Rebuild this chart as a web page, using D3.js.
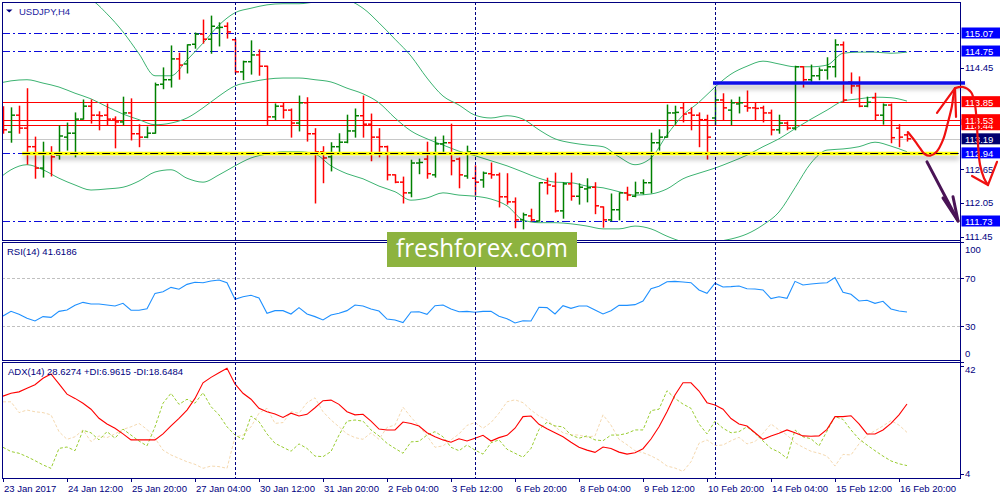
<!DOCTYPE html>
<html><head><meta charset="utf-8">
<script src="https://cdn.jsdelivr.net/npm/d3@7"></script>
<style>
html,body{margin:0;padding:0;background:#fff;}
svg{display:block;font-family:"Liberation Sans",Arial,sans-serif;}
</style></head><body>
<svg id="c" width="1000" height="500"></svg>
<script>
// ---------------- DATA ----------------
const symbol = "USDJPY,H4";
const timeLabels = ["23 Jan 2017","24 Jan 12:00","25 Jan 20:00","27 Jan 04:00","30 Jan 12:00","31 Jan 20:00","2 Feb 04:00","3 Feb 12:00","6 Feb 20:00","8 Feb 04:00","9 Feb 12:00","10 Feb 20:00","14 Feb 04:00","15 Feb 12:00","16 Feb 20:00"];
const timeLabelBars = [1,9,17,25,33,41,49,57,65,73,81,89,97,105,113];
const separatorBars = [30,60,90];   // first bar of each week

// OHLC for bars 1..114 (4-hour bars)
const open = [113.67,113.31,113.61,113.38,113.05,112.67,112.94,112.90,113.22,113.29,
113.54,113.77,113.61,113.61,113.54,113.49,113.65,113.28,113.22,113.29,
114.16,114.24,114.61,114.52,114.87,115.05,114.96,115.16,115.19,114.95,
114.38,114.56,114.68,114.48,113.58,113.77,113.70,113.47,113.83,113.28,
112.96,112.87,113.05,113.13,113.33,113.60,113.45,113.22,113.05,112.55,
112.42,112.23,112.76,112.83,112.55,113.10,113.12,112.83,112.53,112.49,
112.46,112.57,112.55,112.16,112.07,111.75,111.82,111.73,112.41,112.35,
111.91,112.39,112.17,112.30,112.33,111.98,111.75,111.93,112.23,112.17,
112.23,112.41,113.12,113.22,113.65,113.74,113.65,113.61,113.53,113.56,
113.88,113.70,113.81,113.77,113.74,113.74,113.65,113.35,113.47,113.38,
114.47,114.24,114.31,114.41,114.47,114.86,114.20,114.13,113.77,113.92,
113.61,113.79,113.38,113.26];
const high = [113.76,113.74,113.77,114.08,113.22,113.13,113.05,113.42,113.47,113.65,
113.88,113.88,113.67,113.81,113.58,113.93,113.90,113.44,113.40,114.18,
114.45,114.84,114.71,114.86,115.07,115.30,115.37,115.25,115.25,114.96,
114.57,114.93,114.77,114.48,113.81,113.83,113.72,113.95,113.92,113.37,
113.05,113.12,113.28,113.61,113.72,113.95,113.63,113.37,113.06,112.55,
112.51,112.81,112.83,113.13,113.22,113.24,113.45,112.85,113.06,112.71,
112.60,112.76,112.58,112.57,112.14,111.87,111.94,112.41,112.49,112.58,
112.41,112.58,112.39,112.48,112.41,111.98,112.21,112.23,112.33,112.42,
112.46,113.29,113.35,113.79,113.77,113.83,113.74,113.65,113.61,114.06,
113.99,113.88,113.93,114.04,113.83,113.77,113.70,113.61,113.49,114.48,
114.47,114.50,114.45,114.63,114.95,114.91,114.36,114.29,113.93,114.00,
113.81,113.81,113.44,113.28];
const low = [113.29,113.13,113.29,112.74,112.49,112.51,112.53,112.83,112.99,112.87,
113.54,113.47,113.35,113.44,113.03,113.44,113.17,113.05,113.21,113.29,
114.08,114.11,114.25,114.36,114.80,114.89,114.71,114.84,114.98,114.36,
114.24,114.34,114.32,113.44,113.53,113.56,113.22,113.33,113.15,112.05,
112.41,112.62,112.94,113.12,113.22,113.22,112.80,112.87,112.46,112.41,
112.05,112.16,112.57,112.49,112.51,112.96,112.55,112.32,112.49,112.19,
112.33,112.49,111.98,112.03,111.61,111.59,111.73,111.73,112.21,111.89,
111.78,112.10,112.03,112.07,111.86,111.62,111.73,111.75,112.10,112.16,
112.21,112.23,112.99,113.22,113.45,113.49,113.35,113.05,112.83,113.44,
113.53,113.44,113.65,113.68,113.53,113.49,113.26,113.29,113.35,113.35,
114.11,114.20,114.24,114.25,114.29,113.84,114.00,113.76,113.76,113.53,
113.45,113.12,113.05,113.15];
const close = [113.35,113.61,113.38,113.05,112.67,112.94,112.87,113.24,113.29,113.54,
113.77,113.61,113.60,113.54,113.49,113.65,113.28,113.22,113.29,114.15,
114.24,114.61,114.50,114.86,115.05,114.96,115.19,115.17,115.09,114.38,
114.56,114.68,114.48,113.58,113.77,113.70,113.47,113.83,113.28,112.96,
112.85,113.05,113.13,113.33,113.60,113.45,113.22,113.05,112.55,112.42,
112.23,112.76,112.77,112.57,113.10,113.12,112.80,112.55,112.96,112.42,
112.58,112.55,112.16,112.07,111.75,111.84,111.75,112.41,112.37,111.91,
112.39,112.17,112.33,112.32,112.00,111.75,111.93,112.23,112.19,112.23,
112.41,113.12,113.22,113.65,113.66,113.63,113.61,113.53,113.22,113.88,
113.74,113.83,113.83,113.74,113.73,113.65,113.35,113.47,113.38,114.47,
114.24,114.31,114.41,114.47,114.86,113.88,114.13,113.77,113.84,113.61,
113.79,113.21,113.22,113.19];

// Bollinger bands read every 2 bars
const bbBars = [0,2,4,6,8,10,12,14,16,18,20,22,24,26,28,30,32,34,36,38,40,42,44,46,48,50,52,54,56,58,60,62,64,66,68,70,72,74,76,78,80,82,84,86,88,90,92,94,96,98,100,102,104,106,108,110,112,114];
const bbUpper = [116.10,116.01,115.92,115.87,115.80,115.73,115.66,115.41,115.09,114.70,114.31,114.31,114.59,114.89,115.21,115.43,115.51,115.57,115.59,115.59,115.62,115.64,115.64,115.51,115.25,114.96,114.66,114.27,113.95,113.79,113.61,113.56,113.60,113.54,113.35,113.19,113.12,113.08,113.05,112.87,112.73,112.85,113.26,113.61,113.84,114.11,114.34,114.48,114.57,114.52,114.47,114.47,114.50,114.71,114.73,114.73,114.71,114.73];
const bbMiddle = [114.16,114.22,114.24,114.18,114.11,114.00,113.90,113.76,113.63,113.53,113.44,113.47,113.56,113.74,113.95,114.13,114.20,114.25,114.27,114.27,114.24,114.20,114.09,113.99,113.83,113.56,113.33,113.19,113.08,112.97,112.89,112.80,112.71,112.60,112.49,112.42,112.41,112.35,112.32,112.25,112.19,112.21,112.30,112.48,112.58,112.67,112.78,112.90,113.05,113.19,113.37,113.54,113.70,113.86,113.90,113.93,113.92,113.86];
const bbLower = [112.42,112.64,112.73,112.64,112.49,112.37,112.28,112.30,112.33,112.44,112.60,112.64,112.49,112.42,112.55,112.71,112.85,112.92,112.96,112.96,112.92,112.71,112.57,112.48,112.35,112.25,112.10,112.14,112.23,112.19,112.17,112.12,112.00,111.75,111.70,111.70,111.68,111.64,111.59,111.59,111.64,111.59,111.46,111.36,111.32,111.36,111.41,111.50,111.66,111.89,112.32,112.76,112.99,113.01,113.05,113.13,113.06,112.96];

const rsi = [38.3,42.2,39.7,36.4,34.2,37.8,37.2,42.2,43.3,47.2,
49.7,48.3,48.3,47.5,46.7,48.9,43.1,43.1,44.4,57.2,
58.6,62.2,60.6,64.7,66.4,66.1,67.5,68.3,66.1,52.2,
54.4,55.6,53.3,40.6,42.8,42.8,40.0,45.3,40.0,37.8,
35.0,39.2,40.6,42.8,47.5,46.7,44.2,42.5,35.8,35.0,
32.8,41.7,41.9,39.7,46.9,47.5,44.2,41.9,42.2,41.4,
42.2,42.2,38.1,36.1,32.5,34.4,34.2,45.6,45.3,40.0,
46.9,44.7,46.7,46.7,43.3,40.0,42.8,47.2,47.2,47.8,
50.8,61.1,63.1,66.9,67.2,66.7,66.1,60.0,57.2,65.6,
62.5,62.8,63.3,61.1,60.8,60.0,52.8,54.4,53.1,67.2,
64.2,65.0,65.6,66.1,70.3,58.1,56.4,50.8,51.4,48.9,
50.6,44.2,42.5,41.62];
const rsiLevels = [70,30];
const rsiTicks = [100,70,30,0];

const adx = [31.4,32.4,32.9,34.2,35.4,37.7,39.2,35.7,32.1,30.6,
28.9,26.8,23.6,21.6,20.1,18.1,16.0,16.0,16.0,16.0,
18.1,20.9,23.6,26.5,30.6,36.1,38.0,39.6,41.2,35.7,
32.4,30.3,27.1,25.9,25.1,23.9,25.4,24.4,25.0,27.3,
29.8,30.0,28.5,25.9,24.8,25.0,22.6,19.8,19.5,19.5,
22.3,21.8,20.9,18.5,17.1,16.0,15.2,16.4,15.6,16.6,
17.6,15.6,16.8,17.6,20.1,24.2,24.4,21.5,19.9,18.5,
17.1,15.2,13.4,12.4,11.6,13.5,13.0,11.7,11.0,11.5,
12.9,16.3,20.6,25.9,31.8,36.1,36.1,33.2,29.1,28.3,
26.8,23.5,21.6,20.9,18.5,16.2,17.4,18.3,19.5,18.5,
17.4,17.3,17.4,19.7,24.2,24.2,24.5,21.6,18.1,18.1,
19.5,21.8,24.8,28.63];
const plusDI = [13.4,11.9,11.3,10.1,8.7,7.2,6.0,13.0,13.5,12.2,
19.4,18.5,16.0,18.9,16.6,19.8,17.7,15.6,13.9,20.6,
28.9,32.4,28.5,30.3,28.9,32.6,27.7,24.8,20.6,17.7,
16.2,24.4,22.4,18.1,14.8,13.4,12.0,14.6,13.0,10.3,
10.1,11.9,17.7,22.6,23.0,22.6,19.5,17.4,14.8,13.0,
11.3,15.3,15.5,17.7,18.9,17.1,13.4,12.2,14.2,12.4,
11.0,15.0,16.0,12.7,11.3,9.9,13.0,19.7,22.2,20.9,
20.6,17.7,16.6,17.4,16.0,15.7,17.7,17.7,18.3,19.5,
19.5,26.3,26.8,33.3,30.6,28.6,27.1,21.6,18.1,22.6,
20.1,18.5,18.9,20.6,18.3,15.6,13.0,11.7,9.5,19.5,
17.1,16.4,13.9,19.1,24.2,23.2,19.5,16.3,14.2,12.2,
10.3,8.6,7.6,6.96];
const minusDI = [29.4,29.4,25.6,26.5,25.9,25.6,24.8,18.9,16.2,17.1,
19.5,15.4,17.4,16.8,18.1,19.7,20.6,21.8,19.7,16.6,
12.4,10.7,9.5,8.3,7.4,6.0,6.8,6.6,6.0,17.0,
17.7,20.6,25.4,27.1,21.8,22.1,25.9,25.4,29.1,30.8,
25.9,23.0,20.6,18.1,16.8,16.2,18.5,16.2,20.4,21.2,
27.5,24.0,20.9,17.4,13.4,13.9,16.0,18.1,21.1,22.1,
20.1,22.1,25.4,29.4,30.1,29.1,26.5,24.4,23.0,20.6,
18.5,17.8,17.7,17.0,17.4,24.8,21.2,16.2,14.3,12.2,
11.5,10.4,8.9,6.8,6.1,4.9,8.3,14.8,16.0,14.0,
14.2,15.7,16.9,14.6,15.4,18.3,21.6,19.5,17.7,15.0,
13.4,12.0,11.3,10.3,6.8,10.9,10.7,14.6,17.7,19.2,
20.9,22.8,21.2,18.65];
const adxTicks = [42,4];

// horizontal levels
const dashDotLevels = [115.07,114.75,112.94,111.73];
const redLevels = [113.85,113.53,113.44];
const bidPrice = 113.19;
const yellowLine = [3.4,120.4,112.94];    // [fromBar, toBar, price]
const blueLine = [89.75,121.25,114.18];

// right-axis price labels
const priceLabelValues = [114.45,112.65,112.05,111.45,115.07,114.75,113.85,113.44,113.53,113.19,112.94,111.73];
const priceLabelKinds  = ["plain","plain","plain","plain","blue","blue","red","red","red","navy","blue","blue"];

// hand-drawn annotations, in (bar, price)
const redCurveBars   = [114.1,115.0,115.6,116.2,116.9,117.7,118.5,119.1,119.6,119.8,120.0];
const redCurvePrices = [113.31,113.15,113.03,112.92,112.89,112.96,113.17,113.47,113.76,113.95,114.09];
const redHead1Bars   = [117.75,120.0,120.13];
const redHead1Prices = [113.65,114.09,113.58];
const redDropBars    = [120.0,121.0,122.0,122.5,122.75,122.88,123.13,123.63,124.13];
const redDropPrices  = [114.09,114.11,114.02,113.79,113.40,113.08,112.73,112.49,112.37];
const redHead2Bars   = [122.13,124.13,125.25];
const redHead2Prices = [112.53,112.37,112.78];
const purpleBars     = [116.5,120.38];
const purplePrices   = [112.78,111.73];
const purpleHeadBars   = [118.5,120.38,119.75];
const purpleHeadPrices = [112.14,111.73,112.16];

// ---------------- DRAW ----------------
const svg = d3.select("#c");
const L = 2, R = 960;
const P = {main:[2,240], rsi:[242,360], adx:[362,478]};

const x  = d3.scaleLinear().domain([0,114]).range([-5,907]);
const y  = d3.scaleLinear().domain([111.73,115.07]).range([221,33]);
const yR = d3.scaleLinear().domain([0,100]).range([362,242]);
const yA = d3.scaleLinear().domain([4,42]).range([474,366]);

const NAVY = "#000080";
const BLUE = "#0b0bdc";
const fmt = d3.format(".2f");

const defs = svg.append("defs");
Object.entries(P).forEach(([k,[t,b]])=>{
  defs.append("clipPath").attr("id","clip-"+k).append("rect")
    .attr("x",L).attr("y",t).attr("width",R-L).attr("height",b-t);
});
const f = defs.append("filter").attr("id","shadow").attr("filterUnits","userSpaceOnUse")
  .attr("x",0).attr("y",0).attr("width",1000).attr("height",500);
f.append("feDropShadow").attr("dx",1).attr("dy",4).attr("stdDeviation",2.5).attr("flood-color","#000").attr("flood-opacity",0.3);

svg.append("rect").attr("width",1000).attr("height",500).attr("fill","#fff");

const gMain = svg.append("g").attr("clip-path","url(#clip-main)");
const gRsi  = svg.append("g").attr("clip-path","url(#clip-rsi)");
const gAdx  = svg.append("g").attr("clip-path","url(#clip-adx)");

const bars = d3.range(open.length).map(k=>({i:k+1,o:open[k],h:high[k],l:low[k],c:close[k]}));

// separators (all panels)
separatorBars.forEach(b=>{
  svg.append("line").attr("x1",x(b)+0.5).attr("x2",x(b)+0.5).attr("y1",P.main[0]).attr("y2",P.adx[1])
    .attr("stroke",NAVY).attr("stroke-width",1).attr("stroke-dasharray","3,2");
});

// horizontal levels
const hline = (g,p,color,w,dash)=> g.append("line").attr("x1",L).attr("x2",R)
  .attr("y1",Math.round(y(p))+0.5).attr("y2",Math.round(y(p))+0.5)
  .attr("stroke",color).attr("stroke-width",w).attr("stroke-dasharray",dash||null);

hline(gMain,bidPrice,"#c8c8c8",1);
dashDotLevels.forEach(p=>hline(gMain,p,BLUE,1.2,"8,3,2,3"));
redLevels.forEach(p=>hline(gMain,p,"#ff0000",1.2));

// Bollinger bands
const bbLine = vals => d3.line().x((d,k)=>x(bbBars[k])).y(d=>y(d)).curve(d3.curveMonotoneX)(vals);
[bbUpper,bbMiddle,bbLower].forEach(v=>{
  gMain.append("path").attr("d",bbLine(v)).attr("fill","none").attr("stroke","#3cb371").attr("stroke-width",1);
});

// yellow trend line with shadow
const yl = Math.round(y(yellowLine[2]))+0.5;
svg.append("line").attr("x1",x(yellowLine[0])).attr("x2",x(yellowLine[1])).attr("y1",yl).attr("y2",yl)
  .attr("stroke","#ffff00").attr("stroke-width",3.5).attr("filter","url(#shadow)");
svg.append("line").attr("x1",x(yellowLine[0])).attr("x2",x(yellowLine[1])).attr("y1",yl).attr("y2",yl)
  .attr("stroke","#000").attr("stroke-width",1).attr("stroke-dasharray","8,3,2,3");

// OHLC bars
const gb = gMain.append("g");
bars.forEach(d=>{
  const cx = x(d.i)+0.5;
  const col = d.c > d.o ? "#008000" : "#ff0000";
  const g = gb.append("g").attr("stroke",col).attr("stroke-width",1.5);
  g.append("line").attr("x1",cx).attr("x2",cx).attr("y1",y(d.h)-0.5).attr("y2",y(d.l)+0.5);
  g.append("line").attr("x1",cx-3.5).attr("x2",cx).attr("y1",y(d.o)).attr("y2",y(d.o));
  g.append("line").attr("x1",cx).attr("x2",cx+3.5).attr("y1",y(d.c)).attr("y2",y(d.c));
});

// blue thick line
const bl = y(blueLine[2]);
svg.append("line").attr("x1",x(blueLine[0])).attr("x2",x(blueLine[1])).attr("y1",bl).attr("y2",bl)
  .attr("stroke","#0a10e8").attr("stroke-width",3.5).attr("filter","url(#shadow)");

// RSI
rsiLevels.forEach(v=>{
  gRsi.append("line").attr("x1",L).attr("x2",R).attr("y1",Math.round(yR(v))+0.5).attr("y2",Math.round(yR(v))+0.5)
    .attr("stroke","#c0c0c0").attr("stroke-dasharray","3,2");
});
gRsi.append("path").attr("d",d3.line().x((d,k)=>x(k+1)).y(d=>yR(d))(rsi))
  .attr("fill","none").attr("stroke","#1e90ff").attr("stroke-width",1.1);

// ADX
const aLine = d3.line().x((d,k)=>x(k+1)).y(d=>yA(d));
gAdx.append("path").attr("d",aLine(minusDI)).attr("fill","none").attr("stroke","#f5d9b0").attr("stroke-width",1).attr("stroke-dasharray","3,2");
gAdx.append("path").attr("d",aLine(plusDI)).attr("fill","none").attr("stroke","#9acd32").attr("stroke-width",1).attr("stroke-dasharray","3,2");
gAdx.append("path").attr("d",aLine(adx)).attr("fill","none").attr("stroke","#ff0000").attr("stroke-width",1.1);

// frames
const fr = svg.append("g").attr("stroke",NAVY).attr("stroke-width",1).attr("fill","none");
Object.values(P).forEach(([t,b])=>{
  fr.append("line").attr("x1",L).attr("x2",R).attr("y1",t+0.5).attr("y2",t+0.5);
  fr.append("line").attr("x1",L+0.5).attr("x2",L+0.5).attr("y1",t).attr("y2",b);
});
fr.append("line").attr("x1",L).attr("x2",R+1).attr("y1",P.adx[1]+0.5).attr("y2",P.adx[1]+0.5);
fr.append("line").attr("x1",L).attr("x2",R).attr("y1",P.main[1]+0.5).attr("y2",P.main[1]+0.5);
fr.append("line").attr("x1",L).attr("x2",R).attr("y1",P.rsi[1]+0.5).attr("y2",P.rsi[1]+0.5);
fr.append("line").attr("x1",R+0.5).attr("x2",R+0.5).attr("y1",P.main[0]).attr("y2",P.adx[1]+1);

// text
const txt = (xx,yy,s,opt={})=> svg.append("text").attr("x",xx).attr("y",yy).text(s)
  .attr("font-size",opt.size||9.5).attr("fill",opt.fill||NAVY).attr("text-anchor",opt.anchor||"start")
  .attr("dominant-baseline",opt.base||"auto");

// titles
svg.append("path").attr("d",d3.line()([[6,9.5],[12.5,9.5],[9.25,12.5]])+"Z").attr("fill",NAVY);
txt(19,15,symbol,{fill:"#1c1ca0"});
txt(7,255,"RSI(14) "+d3.format(".4f")(41.6186));
txt(8,375,"ADX(14) "+d3.format(".4f")(28.6274)+" +DI:"+d3.format(".4f")(6.9615)+" -DI:"+d3.format(".4f")(18.6484));

// time axis
timeLabelBars.forEach((b,k)=>{
  const xx = x(b)+0.5;
  svg.append("line").attr("x1",xx).attr("x2",xx).attr("y1",P.adx[1]).attr("y2",P.adx[1]+4).attr("stroke",NAVY);
  txt(x(b)+1,492,timeLabels[k]);
});

// right axis: price labels
const kindFill = {blue:"#0000ff",red:"#ff0000",navy:"#000070"};
priceLabelValues.forEach((p,k)=>{
  const yy = y(p), kind = priceLabelKinds[k];
  if(kind==="plain"){
    svg.append("line").attr("x1",R).attr("x2",R+4).attr("y1",Math.round(yy)+0.5).attr("y2",Math.round(yy)+0.5).attr("stroke",NAVY);
    txt(965,yy,fmt(p),{base:"central"});
  } else {
    svg.append("rect").attr("x",R+1.5).attr("y",yy-5.5).attr("width",40).attr("height",11).attr("fill",kindFill[kind]);
    txt(965,yy+0.5,fmt(p),{fill:"#fff",base:"central"});
  }
});
// RSI / ADX axis labels
const rsiLabelY = [249,278,326,353];
rsiTicks.forEach((v,k)=>{
  svg.append("line").attr("x1",R).attr("x2",R+4).attr("y1",Math.round(yR(v))+0.5).attr("y2",Math.round(yR(v))+0.5).attr("stroke",NAVY);
  txt(965,rsiLabelY[k],String(v),{base:"central"});
});
const adxLabelY = [369,473];
adxTicks.forEach((v,k)=>{
  svg.append("line").attr("x1",R).attr("x2",R+4).attr("y1",Math.round(yA(v))+0.5).attr("y2",Math.round(yA(v))+0.5).attr("stroke",NAVY);
  txt(965,adxLabelY[k],String(v),{base:"central"});
});

// watermark
svg.append("rect").attr("x",387).attr("y",232).attr("width",190).attr("height",35).attr("fill","#8db33f");
svg.append("text").attr("x",396).attr("y",257).text("freshforex.com").attr("font-family","'Open Sans',sans-serif")
  .attr("font-size",26).attr("fill","#fff").attr("textLength",172).attr("lengthAdjust","spacingAndGlyphs");

// annotations
const pl = (bs,ps)=> d3.line().curve(d3.curveCatmullRom)(bs.map((b,k)=>[x(b),y(ps[k])]));
const pls = (bs,ps)=> d3.line()(bs.map((b,k)=>[x(b),y(ps[k])]));
const ga = svg.append("g").attr("fill","none").attr("stroke-linecap","round").attr("stroke-linejoin","round");
ga.append("path").attr("d",pl(redCurveBars,redCurvePrices)).attr("stroke","#f01010").attr("stroke-width",2.2);
ga.append("path").attr("d",pls(redHead1Bars,redHead1Prices)).attr("stroke","#f01010").attr("stroke-width",2.2);
ga.append("path").attr("d",pl(redDropBars,redDropPrices)).attr("stroke","#f01010").attr("stroke-width",2.2);
ga.append("path").attr("d",pls(redHead2Bars,redHead2Prices)).attr("stroke","#f01010").attr("stroke-width",2.2);
ga.append("path").attr("d",pls(purpleBars,purplePrices)).attr("stroke","#4a1456").attr("stroke-width",3);
ga.append("path").attr("d",pls(purpleHeadBars,purpleHeadPrices)).attr("stroke","#4a1456").attr("stroke-width",3);
</script>
</body></html>
